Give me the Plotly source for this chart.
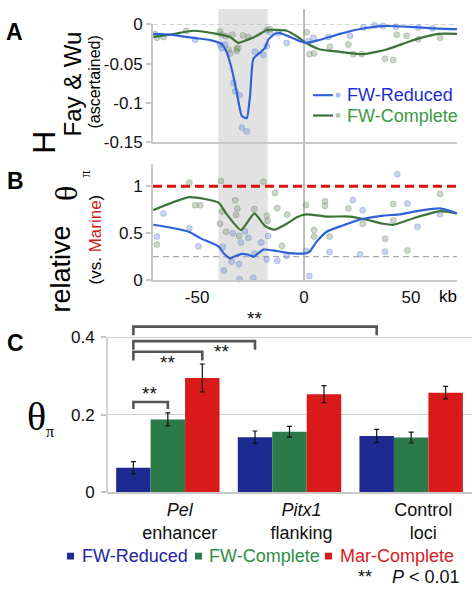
import plotly.graph_objects as go

W, H = 475, 600
FONT = "Liberation Sans, Arial, Helvetica, sans-serif"
SERIF = "Liberation Serif, Times New Roman, serif"

# ---------------- Panel A data (Fay & Wu H) ----------------
a_red_line_kb = [-70.5, -62.6, -50.9, -43.9, -38.5, -36.1, -33.8, -31.5, -29.1, -26.8, -25.2, -23.7,
                 -20.6, -18.2, -16.7, -13.6, -11.2, -6.5, -1.9, 1.2, 7.5, 16.8, 26.2, 37.0, 49.5, 60.4, 71.5]
a_red_line_val = [-0.012, -0.013, -0.0174, -0.020, -0.025, -0.036, -0.057, -0.086, -0.117, -0.120, -0.090,
                  -0.044, -0.036, -0.030, -0.0195, -0.012, -0.011, -0.016, -0.0215, -0.0236, -0.0195, -0.012,
                  -0.0058, -0.002, -0.003, -0.005, -0.006]
a_com_line_kb = [-70.5, -62.6, -51.7, -40.8, -34.6, -30.7, -26.8, -22.1, -17.4, -12.8, -8.1, -3.4, 1.2,
                 7.5, 16.8, 27.7, 38.6, 51.1, 62.8, 71.5]
a_com_line_val = [-0.016, -0.013, -0.008, -0.012, -0.016, -0.0236, -0.020, -0.0145, -0.007, -0.007, -0.008,
                  -0.015, -0.024, -0.032, -0.035, -0.038, -0.032, -0.020, -0.012, -0.012]
a_red_pts_kb = [-69.6, -50.9, -39.3, -38.5, -36.9, -34.6, -33.0, -32.2, -30.2, -29.1, -26.8, -22.9, -19.0,
                -17.4, -15.9, -12.0, -8.1, 2.0, 4.4, 11.4, 21.5, 27.7, 33.0, 37.0, 43.0, 53.4, 60.0]
a_red_pts_val = [-0.012, -0.0195, -0.026, -0.030, -0.0256, -0.037, -0.075, -0.0856, -0.0906, -0.132, -0.137,
                 -0.035, -0.039, -0.0277, -0.010, -0.011, -0.0236, -0.0215, -0.017, -0.016, -0.0145, -0.0037,
                 -0.001, -0.002, -0.003, -0.004, -0.005]
a_com_pts_kb = [-68.8, -65.7, -55.0, -39.3, -38.5, -36.5, -35.4, -33.5, -31.5, -31.5, -30.7, -28.5, -26.0,
                -17.4, -16.0, 1.2, 2.5, 4.7, 12.1, 20.7, 23.0, 27.0, 37.9, 41.7, 43.3, 48.0, 53.4, 63.6]
a_com_pts_val = [-0.017, -0.016, -0.008, -0.009, -0.013, -0.015, -0.032, -0.013, -0.031, -0.034, -0.030,
                 -0.014, -0.016, -0.007, -0.006, -0.010, -0.038, -0.037, -0.0285, -0.0256, -0.038, -0.038,
                 -0.044, -0.0455, -0.013, -0.0145, -0.019, -0.017]
a_ticks = [0, -0.05, -0.1, -0.15]
a_ticktext = ["0", "-0.05", "-0.1", "-0.15"]

# ---------------- Panel B data (relative theta pi) ----------------
b_red_line_kb = [-70.5, -62.6, -53.3, -48.6, -40.0, -37.7, -34.6, -32.2, -29.1, -26.0, -23.7, -19.0, -12.8,
                 -6.5, 0.5, 2.5, 5.9, 10.6, 18.4, 26.2, 37.1, 44.9, 54.2, 63.6, 71.5]
b_red_line_val = [0.59, 0.56, 0.51, 0.447, 0.36, 0.29, 0.232, 0.255, 0.28, 0.27, 0.248, 0.325, 0.31, 0.288,
                  0.285, 0.30, 0.41, 0.515, 0.584, 0.646, 0.687, 0.70, 0.74, 0.763, 0.71]
b_com_line_kb = [-70.5, -53.5, -40.0, -36.1, -29.5, -23.2, -18.2, -13.8, -8.1, -3.4, 1.2, 10.6, 21.5, 29.3,
                 37.1, 42.0, 52.7, 63.6, 71.5]
b_com_line_val = [0.745, 0.883, 0.825, 0.70, 0.533, 0.71, 0.574, 0.537, 0.60, 0.67, 0.70, 0.677, 0.677,
                  0.643, 0.60, 0.59, 0.67, 0.735, 0.71]
b_red_pts_kb = [-68.8, -65.7, -53.6, -49.4, -38.0, -37.4, -33.8, -33.3, -30.4, -30.2, -29.5, -27.6, -23.7,
                -23.2, -17.4, -16.8, -12.5, -8.1, 0.9, 2.5, 11.9, 22.8, 26.2, 27.4, 37.9, 43.6, 48.3, 53.0,
                63.6, -20.0, -26.0]
b_red_pts_val = [0.464, 0.71, 0.55, 0.36, 0.354, 0.103, 0.196, 0.498, 0.17, 0.01, 0.40, 0.52, 0.024, 0.28,
                 0.22, 0.47, 0.206, 0.258, 0.31, 0.045, 0.30, 0.853, 0.275, 0.745, 0.302, 1.127, 0.815,
                 0.567, 0.70, 0.40, 0.45]
b_com_pts_kb = [-68.8, -53.6, -50.9, -48.5, -39.3, -38.8, -38.3, -36.4, -32.2, -31.2, -31.8, -30.4, -23.2,
                -19.0, -17.4, -17.0, -13.6, -12.5, -10.3, -7.8, 0.9, 4.7, 4.7, 9.8, 9.8, 11.9, 20.7, 27.4,
                37.9, 41.7, 41.7, 48.3, 63.6]
b_com_pts_val = [0.378, 1.04, 0.797, 0.797, 0.60, 1.055, 0.73, 0.515, 0.85, 0.763, 0.694, 0.47, 0.756,
                 1.048, 0.687, 0.63, 0.928, 0.766, 0.364, 0.698, 0.80, 0.533, 0.464, 0.84, 0.79, 0.464,
                 0.763, 0.60, 0.44, 0.81, 0.636, 0.316, 0.918]
b_ticks = [0, 0.5, 1]
b_ticktext = ["0", "0.5", "1"]
x_ticks = [-50, 0, 50]
x_ticktext = ["-50", "0", "50"]
marine_ref = 1.0
low_ref = 0.25
shade_kb = [-40, -17]

# ---------------- Panel C data (theta pi bars) ----------------
c_labels = ["<i>Pel</i><br>enhancer", "<i>Pitx1</i><br>flanking", "Control<br>loci"]
c_groups = [0, 1, 2]
fw_reduced = [0.063, 0.142, 0.145]
fw_reduced_err = [0.016, 0.016, 0.017]
fw_complete = [0.188, 0.156, 0.141]
fw_complete_err = [0.017, 0.014, 0.014]
mar_complete = [0.295, 0.253, 0.257]
mar_complete_err = [0.036, 0.022, 0.016]
c_ticks = [0, 0.2, 0.4]
c_ticktext = ["0", "0.2", "0.4"]
# significance brackets: (series a, group a, series b, group b, bar level, drop level)
brackets = [(0, 0, 1, 0, 0.233, 0.215),
            (0, 0, 2, 0, 0.3625, 0.34),
            (0, 0, 0, 1, 0.39, 0.3675),
            (0, 0, 0, 2, 0.4275, 0.405)]
star_pos = [(-0.15, 0.256), (-0.005, 0.336), (0.445, 0.362), (0.71, 0.449)]

BLUE_L = "#2f62d8"
GREEN_L = "#3b7238"
BLUE_P = "rgba(110,140,215,0.38)"
GREEN_P = "rgba(120,150,115,0.38)"
BAR_B = "#1d2a92"
BAR_G = "#2c7a48"
BAR_R = "#d81a1a"

fig = go.Figure()

# Panel A
fig.add_trace(go.Scatter(x=a_red_pts_kb, y=a_red_pts_val, mode="markers", xaxis="x", yaxis="y",
                         marker=dict(size=6, color=BLUE_P, line=dict(width=0.7, color="rgba(90,120,200,0.45)")),
                         cliponaxis=False, showlegend=False))
fig.add_trace(go.Scatter(x=a_com_pts_kb, y=a_com_pts_val, mode="markers", xaxis="x", yaxis="y",
                         marker=dict(size=6, color=GREEN_P, line=dict(width=0.7, color="rgba(100,130,100,0.45)")),
                         cliponaxis=False, showlegend=False))
fig.add_trace(go.Scatter(x=a_com_line_kb, y=a_com_line_val, mode="lines", xaxis="x", yaxis="y",
                         line=dict(color=GREEN_L, width=2.2, shape="spline", smoothing=0.5), showlegend=False))
fig.add_trace(go.Scatter(x=a_red_line_kb, y=a_red_line_val, mode="lines", xaxis="x", yaxis="y",
                         line=dict(color=BLUE_L, width=2.2, shape="spline", smoothing=0.5), showlegend=False))

# Panel B
fig.add_trace(go.Scatter(x=b_red_pts_kb, y=b_red_pts_val, mode="markers", xaxis="x2", yaxis="y2",
                         marker=dict(size=6, color=BLUE_P, line=dict(width=0.7, color="rgba(90,120,200,0.45)")),
                         cliponaxis=False, showlegend=False))
fig.add_trace(go.Scatter(x=b_com_pts_kb, y=b_com_pts_val, mode="markers", xaxis="x2", yaxis="y2",
                         marker=dict(size=6, color=GREEN_P, line=dict(width=0.7, color="rgba(100,130,100,0.45)")),
                         cliponaxis=False, showlegend=False))
fig.add_trace(go.Scatter(x=b_com_line_kb, y=b_com_line_val, mode="lines", xaxis="x2", yaxis="y2",
                         line=dict(color=GREEN_L, width=2.2, shape="spline", smoothing=0.5), showlegend=False))
fig.add_trace(go.Scatter(x=b_red_line_kb, y=b_red_line_val, mode="lines", xaxis="x2", yaxis="y2",
                         line=dict(color=BLUE_L, width=2.2, shape="spline", smoothing=0.5), showlegend=False))

# Panel C bars
series = [(fw_reduced, fw_reduced_err, BAR_B, "FW-Reduced"),
          (fw_complete, fw_complete_err, BAR_G, "FW-Complete"),
          (mar_complete, mar_complete_err, BAR_R, "Mar-Complete")]
for i, (vals, err, col, nm) in enumerate(series):
    fig.add_trace(go.Bar(x=c_groups, y=vals, name=nm, xaxis="x3", yaxis="y3", offsetgroup=str(i),
                         marker=dict(color=col, line=dict(width=0)),
                         error_y=dict(type="data", array=err, color="#111", thickness=1.2, width=2.5),
                         showlegend=False))

BW = (1 - 0.15) / 3
def bar_center(s, g):
    return g + (s - 1) * BW

for (sa, ga, sb, gb, lvl, drop) in brackets:
    xa, xb = bar_center(sa, ga), bar_center(sb, gb)
    fig.add_trace(go.Scatter(x=[xa, xa, xb, xb], y=[drop, lvl, lvl, drop], mode="lines",
                             xaxis="x3", yaxis="y3", line=dict(color="#555", width=2.6),
                             showlegend=False, hoverinfo="skip"))

annotations = []
for (sx, sy) in star_pos:
    annotations.append(dict(x=sx, y=sy, xref="x3", yref="y3", text="**", showarrow=False,
                            font=dict(size=19, color="#111", family=FONT), xanchor="center", yanchor="middle"))

def P(px, py):
    return px / W, 1 - py / H

def ann(px, py, text, size, color="#000", angle=0, family=FONT, xanchor="center"):
    x, y = P(px, py)
    annotations.append(dict(x=x, y=y, xref="paper", yref="paper", text=text, showarrow=False,
                            textangle=angle, xanchor=xanchor, yanchor="middle",
                            font=dict(size=size, color=color, family=family)))

# panel letters
ann(14, 24, "<b>A</b>", 23)
ann(15, 178, "<b>B</b>", 23)
ann(15, 345, "<b>C</b>", 23)

# Panel A y title
ann(44, 138, "H", 32, angle=-90)
ann(73, 78, "Fay &amp; Wu", 24, angle=-90)
ann(95, 76, "(ascertained)", 16, angle=-90)

# Panel B y title
ann(61, 268, "relative", 27, angle=-90)
ann(66, 191, "θ", 32, angle=-90, family=SERIF)
ann(86, 171, "π", 14, angle=-90, family=SERIF)
ann(95, 238, "(vs. <span style='color:#d01818'>Marine</span>)", 17, angle=-90)
ann(448, 297, "kb", 17)

# Panel C y title
ann(36, 421, "θ", 40, family=SERIF)
ann(50, 436, "π", 16, family=SERIF)

# Panel A legend
ann(345, 89, "FW-Reduced", 18, color="#1e2ed0", xanchor="left")
ann(345, 110, "FW-Complete", 18, color="#3a9a40", xanchor="left")

# Panel C legend
ann(80, 565, "FW-Reduced", 18, color="#22249e", xanchor="left")
ann(207, 565, "FW-Complete", 18, color="#2f8e45", xanchor="left")
ann(338, 565, "Mar-Complete", 18, color="#d42020", xanchor="left")
ann(462, 587, "**    <i>P</i> &lt; 0.01", 18, color="#111", xanchor="right")

shapes = []
yB0 = 1 - 280 / H
shapes.append(dict(type="rect", xref="x", yref="paper", x0=shade_kb[0], x1=shade_kb[1], y0=yB0, y1=1.0,
                   fillcolor="#e2e2e2", line=dict(width=0), layer="below"))
shapes.append(dict(type="line", xref="x", yref="paper", x0=0, x1=0, y0=yB0, y1=1.0,
                   line=dict(color="#9a9a9a", width=1.3), layer="below"))
shapes.append(dict(type="line", xref="x domain", yref="y", x0=0, x1=1, y0=0, y1=0,
                   line=dict(color="#aaaaaa", width=1.2, dash="5px,3px"), layer="below"))
shapes.append(dict(type="line", xref="x2 domain", yref="y2", x0=0, x1=1, y0=marine_ref, y1=marine_ref,
                   line=dict(color="#dd1111", width=3, dash="9px,5px"), layer="below"))
shapes.append(dict(type="line", xref="x2 domain", yref="y2", x0=0, x1=1, y0=low_ref, y1=low_ref,
                   line=dict(color="#aaaaaa", width=1.3, dash="6px,4px"), layer="below"))
shapes.append(dict(type="line", xref="x3 domain", yref="y3", x0=0, x1=0, y0=0, y1=0.4,
                   line=dict(color="#c4c4c4", width=1.5), layer="below"))

# legend glyphs (panel A)
for py, col, pcol in [(89, BLUE_L, "rgba(150,170,230,0.8)"), (110, GREEN_L, "rgba(160,180,160,0.8)")]:
    x0, y0 = P(313, py)
    x1, _ = P(333, py)
    shapes.append(dict(type="line", xref="paper", yref="paper", x0=x0, x1=x1, y0=y0, y1=y0,
                       line=dict(color=col, width=2.2)))
    cx0, cy0 = P(335.5, py - 2.5)
    cx1, cy1 = P(340.5, py + 2.5)
    shapes.append(dict(type="circle", xref="paper", yref="paper", x0=cx0, x1=cx1, y0=cy1, y1=cy0,
                       fillcolor=pcol, line=dict(width=0)))
# legend squares (panel C)
for px, col in [(70.5, BAR_B), (198.5, BAR_G), (328.5, BAR_R)]:
    x0, y0 = P(px - 3.5, 565 + 3.5)
    x1, y1 = P(px + 3.5, 565 - 3.5)
    shapes.append(dict(type="rect", xref="paper", yref="paper", x0=x0, x1=x1, y0=y0, y1=y1,
                       fillcolor=col, line=dict(width=0)))

xdom = [153 / W, 457 / W]
xrng = [-70.6, 71.5]
axis_line = dict(showline=True, linecolor="#c8c8c8", linewidth=2)
tickfont = dict(size=17, color="#111", family=FONT)

fig.update_layout(
    width=W, height=H, autosize=False,
    margin=dict(l=0, r=0, t=0, b=0),
    paper_bgcolor="white", plot_bgcolor="rgba(0,0,0,0)",
    barmode="group", bargap=0.15, bargroupgap=0,
    showlegend=False,
    font=dict(family=FONT, size=17, color="#111"),
    xaxis=dict(domain=xdom, range=xrng, anchor="y", showticklabels=False, ticks="", showgrid=False,
               zeroline=False, **axis_line),
    yaxis=dict(domain=[1 - 137 / H, 1 - 16 / H], range=[-0.15, 0], anchor="x", tickvals=a_ticks,
               ticktext=a_ticktext, ticks="outside", ticklen=5, tickcolor="#c8c8c8", tickwidth=1.5,
               showgrid=False, zeroline=False, tickfont=tickfont, **axis_line),
    xaxis2=dict(domain=xdom, range=xrng, anchor="y2", tickvals=x_ticks, ticktext=x_ticktext, ticks="",
                showgrid=False, zeroline=False, tickfont=tickfont, **axis_line),
    yaxis2=dict(domain=[1 - 280 / H, 1 - 160 / H], range=[0, 1.237], anchor="x2", tickvals=b_ticks,
                ticktext=b_ticktext, ticks="outside", ticklen=5, tickcolor="#c8c8c8", tickwidth=1.5,
                showgrid=False, zeroline=False, tickfont=tickfont, **axis_line),
    xaxis3=dict(domain=[107 / W, 472 / W], range=[-0.5, 2.5], anchor="y3", tickvals=c_groups,
                ticktext=c_labels, ticks="", showgrid=False, zeroline=False, ticklabelshift=12,
                tickfont=dict(size=18, color="#111", family=FONT), **axis_line),
    yaxis3=dict(domain=[1 - 499 / H, 1 - 319 / H], range=[0, 0.45], anchor="x3", tickvals=c_ticks,
                ticktext=c_ticktext, ticks="outside", ticklen=5, tickcolor="#c4c4c4", tickwidth=1.5,
                showgrid=True, gridcolor="#d0d0d0", gridwidth=1, zeroline=False, showline=False,
                ticklabelstandoff=3, tickfont=tickfont),
    annotations=annotations,
    shapes=shapes,
)

fig.write_html("out.html", config={"displayModeBar": False},
               post_script="document.body.style.margin='0px';document.body.style.overflow='hidden';")
